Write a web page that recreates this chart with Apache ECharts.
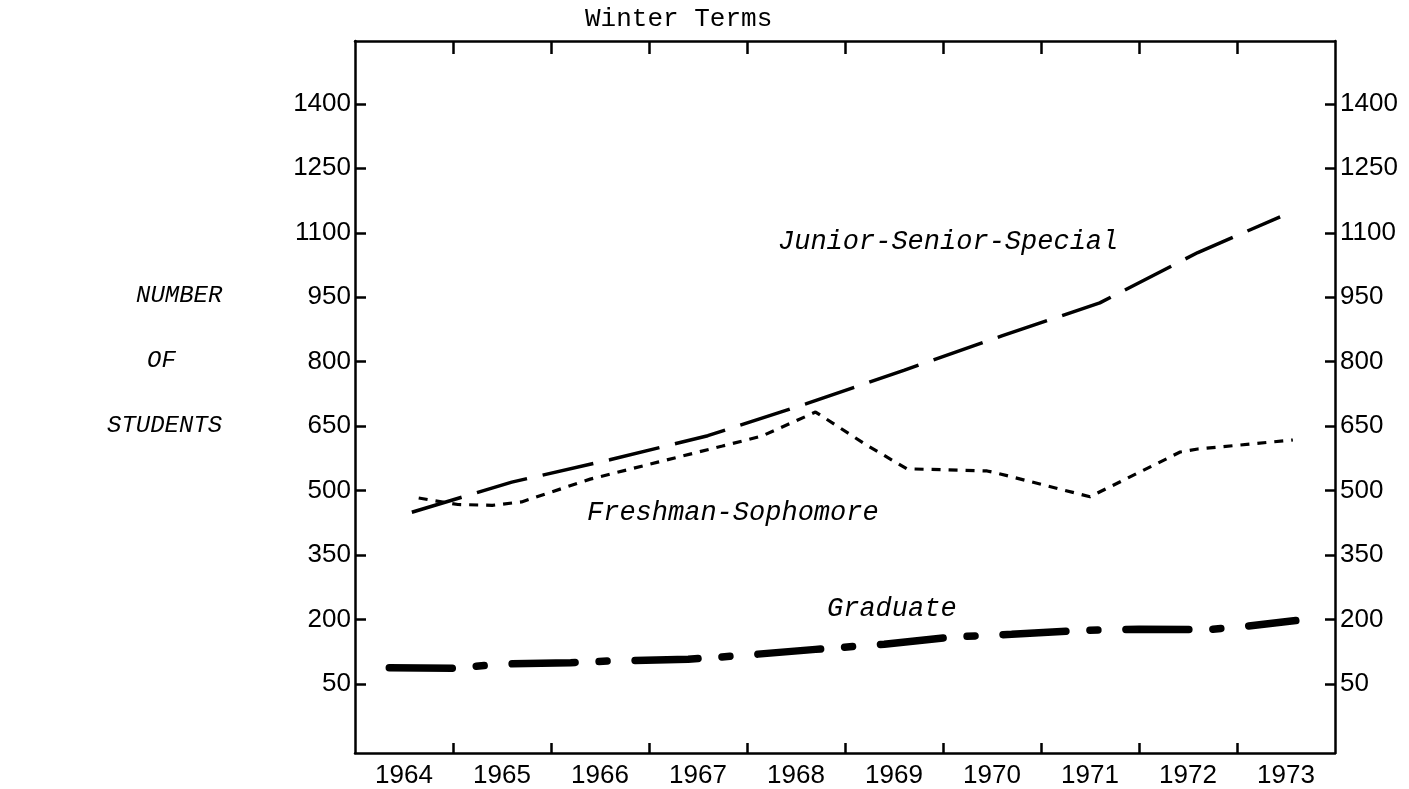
<!DOCTYPE html>
<html>
<head>
<meta charset="utf-8">
<style>
  html, body { margin: 0; padding: 0; background: #fff; }
  #chart { width: 1409px; height: 789px; }
</style>
<script src="https://cdn.jsdelivr.net/npm/echarts@6/dist/echarts.min.js"></script>
</head>
<body>
<div id="chart"></div>
<script>
// axis labels and tick positions
var years = [1964, 1965, 1966, 1967, 1968, 1969, 1970, 1971, 1972, 1973];
var yearBreaks = [1964.5, 1965.5, 1966.5, 1967.5, 1968.5, 1969.5, 1970.5, 1971.5, 1972.5];
var countTicks = [50, 200, 350, 500, 650, 800, 950, 1100, 1250, 1400];

// Junior-Senior-Special
var juniorYears = [1964.08, 1965.1, 1966.1, 1967.1, 1968.1, 1969.1, 1970.1, 1971.1, 1972.1, 1972.94];
var juniorCounts = [450, 520, 572, 628, 702, 780, 860, 937, 1054, 1137];

// Freshman-Sophomore
var freshYears = [1964.15, 1964.55, 1964.9, 1965.2, 1965.9, 1966.6, 1967.25, 1967.65, 1968.2, 1968.7, 1969.13, 1969.95, 1970.05, 1971.0, 1971.92, 1972.1, 1973.07];
var freshCounts = [483, 468, 466, 474, 527, 567, 604, 627, 683, 609, 551, 546, 541, 486, 590, 597, 618];

// Graduate
var gradYears = [1963.85, 1964.5, 1965.0, 1965.7, 1966.1, 1966.9, 1967.4, 1968.2, 1968.9, 1969.6, 1970.2, 1970.9, 1971.5, 1972.2, 1972.6, 1973.1];
var gradCounts = [88, 87, 97, 100, 104, 108, 116, 131, 143, 160, 166, 175, 178, 177, 185, 198];

function pairs(xs, ys) {
    var out = [];
    for (var i = 0; i < xs.length; i++) {
        out.push([xs[i], ys[i]]);
    }
    return out;
}

var chart = echarts.init(document.getElementById('chart'));

var plain = function (v) { return String(v); };
var axisFont = { fontFamily: 'Liberation Sans', fontSize: 26, color: '#000', formatter: plain };
var axisPen = { color: '#000', width: 2.5 };
var noteFont = 'italic 27px "Liberation Mono"';
var sideFont = 'italic 24px "Liberation Mono"';

var options = {
    animation: false,
    backgroundColor: '#fff',
    grid: { left: 355, right: 74, top: 41, bottom: 34 },
    xAxis: [{
        type: 'value',
        position: 'bottom',
        min: 1963.5,
        max: 1973.5,
        axisLine: { onZero: false, lineStyle: axisPen },
        axisTick: { inside: true, length: 10, customValues: yearBreaks, lineStyle: axisPen },
        axisLabel: Object.assign({ customValues: years, margin: 10 }, axisFont),
        splitLine: { show: false }
    }, {
        type: 'value',
        position: 'top',
        min: 1963.5,
        max: 1973.5,
        axisLine: { onZero: false, lineStyle: axisPen },
        axisTick: { inside: true, length: 13, customValues: yearBreaks, lineStyle: axisPen },
        axisLabel: { show: false },
        splitLine: { show: false }
    }],
    yAxis: [{
        type: 'value',
        position: 'left',
        min: -110,
        max: 1546,
        axisLine: { show: true, onZero: false, lineStyle: axisPen },
        axisTick: { show: true, inside: true, length: 11, customValues: countTicks, lineStyle: axisPen },
        axisLabel: Object.assign({ customValues: countTicks, margin: 4 }, axisFont),
        splitLine: { show: false }
    }, {
        type: 'value',
        position: 'right',
        min: -110,
        max: 1546,
        axisLine: { show: true, onZero: false, lineStyle: axisPen },
        axisTick: { show: true, inside: true, length: 10, customValues: countTicks, lineStyle: axisPen },
        axisLabel: Object.assign({ customValues: countTicks, margin: 5 }, axisFont),
        splitLine: { show: false }
    }],
    series: [{
        name: 'Junior-Senior-Special',
        type: 'line',
        showSymbol: false,
        data: pairs(juniorYears, juniorCounts),
        lineStyle: { color: '#000', width: 3.5, type: [52, 16] }
    }, {
        name: 'Freshman-Sophomore',
        type: 'line',
        showSymbol: false,
        data: pairs(freshYears, freshCounts),
        lineStyle: { color: '#000', width: 3.2, type: [9, 8] }
    }, {
        name: 'Graduate',
        type: 'line',
        showSymbol: false,
        data: pairs(gradYears, gradCounts),
        lineStyle: { color: '#000', width: 7.5, cap: 'round', type: [63, 24, 8, 28] }
    }],
    graphic: [
        { type: 'text', left: 585, top: 6, style: { text: 'Winter Terms', font: '26px "Liberation Mono"', fill: '#000' } },
        { type: 'text', left: 778, top: 228, style: { text: 'Junior-Senior-Special', font: noteFont, fill: '#000' } },
        { type: 'text', left: 587, top: 499, style: { text: 'Freshman-Sophomore', font: noteFont, fill: '#000' } },
        { type: 'text', left: 827, top: 595, style: { text: 'Graduate', font: noteFont, fill: '#000' } },
        { type: 'text', left: 136, top: 284, style: { text: 'NUMBER', font: sideFont, fill: '#000' } },
        { type: 'text', left: 147, top: 349, style: { text: 'OF', font: sideFont, fill: '#000' } },
        { type: 'text', left: 107, top: 414, style: { text: 'STUDENTS', font: sideFont, fill: '#000' } }
    ]
};

chart.setOption(options);
</script>
</body>
</html>
